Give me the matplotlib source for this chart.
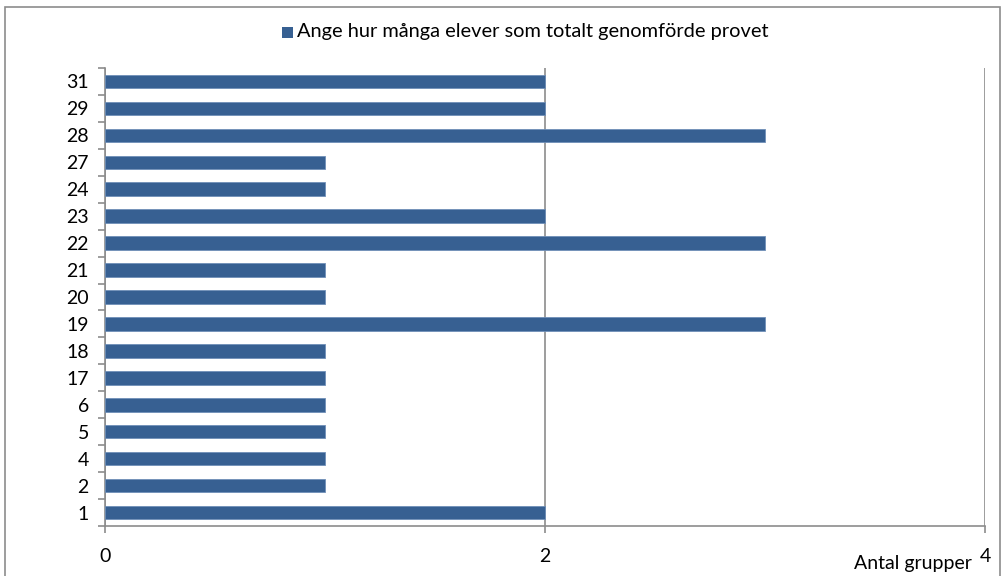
import matplotlib
matplotlib.use("Agg")
import matplotlib.pyplot as plt
from matplotlib.patches import Rectangle

categories = ["1", "2", "4", "5", "6", "17", "18", "19", "20", "21", "22", "23", "24", "27", "28", "29", "31"]
values = [2, 1, 1, 1, 1, 1, 1, 3, 1, 1, 3, 2, 1, 1, 3, 2, 2]
series_name = "Ange hur många elever som totalt genomförde provet"
x_ticks = [0, 2, 4]
x_label = "Antal grupper"

plt.rcParams['font.family'] = ['Lato', 'DejaVu Sans']
W, H = 1003, 576
fig = plt.figure(figsize=(W / 100, H / 100), dpi=100)

# outer frame (bottom edge falls outside the image, as in the reference)
fig.patches.append(Rectangle((5 / W, -0.02), 995 / W, 1.02 - 7 / H, transform=fig.transFigure,
                             fill=False, edgecolor='#8c8c8c', linewidth=1.2))

ax = fig.add_axes([105.5 / W, 1 - 526 / H, (985 - 105.5) / W, (526 - 68) / H])
bar_color = '#376092'
pos = list(range(len(categories)))
ax.barh(pos, values, height=0.5, color=bar_color, edgecolor='#6f8fb8', linewidth=0.6, zorder=3)

ax.set_xlim(0, 4)
ax.set_ylim(-0.5, len(categories) - 0.5)
ax.set_xticks(x_ticks)
ax.set_xticklabels([str(t) for t in x_ticks], fontsize=14)
ax.set_yticks(pos)
ax.set_yticklabels(categories, fontsize=14)
ax.set_yticks([p + 0.5 for p in [-1] + pos], minor=True)
ax.tick_params(axis='y', which='major', length=0, pad=12)
ax.tick_params(axis='y', which='minor', length=5, color='#8c8c8c', width=1.2)
ax.tick_params(axis='x', which='major', length=5, color='#8c8c8c', width=1.2, pad=11)

for s in ['top', 'right']:
    ax.spines[s].set_visible(False)
for s in ['left', 'bottom']:
    ax.spines[s].set_color('#8c8c8c')
    ax.spines[s].set_linewidth(1.2)

ax.xaxis.grid(True, color='#8c8c8c', linewidth=1.2, zorder=0)
ax.set_axisbelow(True)

fig.text(972 / W, 1 - 563 / H, x_label, ha='right', va='center', fontsize=14)

# legend
fig.patches.append(Rectangle((282 / W, 1 - 38 / H), 11 / W, 11 / H, transform=fig.transFigure,
                             facecolor=bar_color, edgecolor='none'))
fig.text(297 / W, 1 - 32 / H, series_name, ha='left', va='center', fontsize=14.4)

fig.savefig("out.png", dpi=100)
